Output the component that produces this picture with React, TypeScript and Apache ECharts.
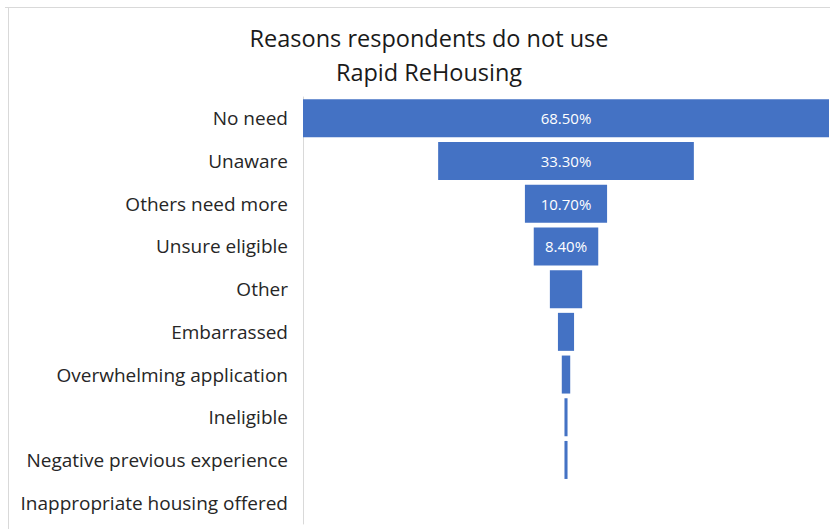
import React, { useEffect, useRef } from "react";
import * as echarts from "echarts";

const titleLines = ["Reasons respondents do not use", "Rapid ReHousing"];
const categories = [
  "No need",
  "Unaware",
  "Others need more",
  "Unsure eligible",
  "Other",
  "Embarrassed",
  "Overwhelming application",
  "Ineligible",
  "Negative previous experience",
  "Inappropriate housing offered",
];
const values = [68.5, 33.3, 10.7, 8.4, 4.2, 2.1, 1.1, 0.4, 0.4, 0];
const labelledCount = 4;

export default function App() {
  const ref = useRef<HTMLDivElement>(null);
  useEffect(() => {
    if (!ref.current) return;
    const chart = echarts.init(ref.current, undefined, { renderer: "svg" });
    const maxV = Math.max(...values);
    const offsets = values.map((v) => (maxV - v) / 2);
    const font = "'Open Sans', Lato, sans-serif";
    chart.setOption({
      animation: false,
      backgroundColor: "#ffffff",
      title: {
        text: titleLines.join("\n"),
        left: 424,
        textAlign: "center",
        top: 16,
        textStyle: {
          fontFamily: font,
          fontSize: 23.5,
          fontWeight: "normal",
          color: "#1a1a1a",
          lineHeight: 34,
        },
      },
      graphic: [
        {
          type: "line",
          shape: { x1: 5, y1: 7.5, x2: 830, y2: 7.5 },
          style: { stroke: "#d9d9d9", lineWidth: 1 },
        },
        {
          type: "line",
          shape: { x1: 8.5, y1: 7, x2: 8.5, y2: 529 },
          style: { stroke: "#d9d9d9", lineWidth: 1 },
        },
      ],
      grid: { left: 303, right: 1, top: 97, bottom: 5, containLabel: false },
      xAxis: { type: "value", min: 0, max: maxV, show: false },
      yAxis: {
        type: "category",
        data: categories,
        inverse: true,
        axisLine: { show: true, lineStyle: { color: "#d9d9d9" } },
        axisTick: { show: false },
        axisLabel: {
          fontFamily: font,
          fontSize: 19,
          color: "#262626",
          margin: 15,
        },
      },
      series: [
        {
          type: "bar",
          stack: "funnel",
          data: offsets,
          itemStyle: { color: "transparent" },
          barCategoryGap: "11%",
          silent: true,
        },
        {
          type: "bar",
          stack: "funnel",
          barCategoryGap: "11%",
          data: values.map((v, i) => ({
            value: v,
            label: { show: i < labelledCount },
          })),
          itemStyle: { color: "#4472C4" },
          label: {
            position: "inside",
            color: "#ffffff",
            fontFamily: font,
            fontSize: 15,
            formatter: (p: any) => Number(p.value).toFixed(2) + "%",
          },
        },
      ],
    });
    return () => chart.dispose();
  }, []);
  return (
    <div
      ref={ref}
      style={{ position: "fixed", left: 0, top: 0, width: 830, height: 529 }}
    />
  );
}
